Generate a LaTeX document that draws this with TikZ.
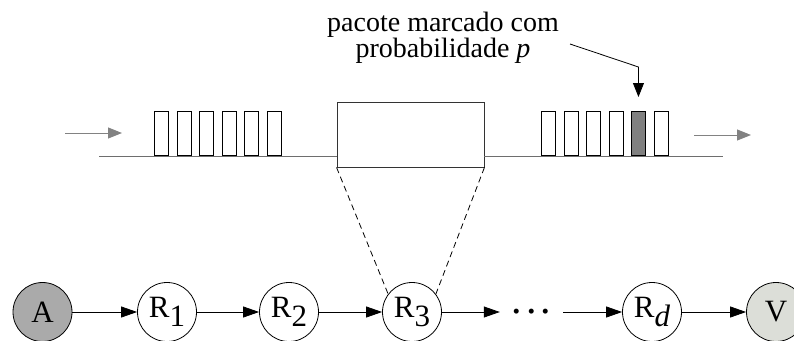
\documentclass[tikz,border=0pt]{standalone}
\usepackage{fontspec}
\setmainfont{Liberation Serif}
\usetikzlibrary{arrows.meta}
\definecolor{lineGray}{RGB}{110,110,110}
\definecolor{flowGray}{RGB}{130,130,130}
\definecolor{srcFill}{RGB}{170,170,170}
\definecolor{dstFill}{RGB}{220,222,216}
\definecolor{markFill}{RGB}{128,128,128}
\newcommand{\lowsub}[1]{\raisebox{-0.3em}{#1}}
\begin{document}
\begin{tikzpicture}[x=1pt,y=-1pt,
  router/.style={circle,draw=black,line width=0.8pt,minimum size=59pt,inner sep=0pt,
    font=\fontsize{31}{31}\selectfont},
  hop/.style={line width=0.8pt,-{Triangle[length=16pt,width=11pt]}},
  flow/.style={draw=flowGray,line width=1pt,-{Triangle[length=14pt,width=11pt]}},
  pkt/.style={draw=black,line width=0.9pt,minimum width=14pt,minimum height=44pt,
    inner sep=0pt,anchor=south west},
  wire/.style={draw=lineGray,line width=1pt},
  zoomline/.style={line width=0.8pt,dash pattern=on 6pt off 4pt},
  zoombox/.style={draw=black!80,line width=0.9pt,minimum width=147pt,minimum height=65pt,
    inner sep=0pt,fill=white}]
\useasboundingbox (0,0) rectangle (794,340);

% link carrying packets
\coordinate (wL) at (99,156);
\coordinate (wR) at (723,156);
\node[zoombox] (box) at (410.5,134.5) {};
\draw[wire] (wL) -- (box.west |- wL);
\draw[wire] (box.east |- wR) -- (wR);

% traffic direction
\coordinate (inA) at (65,133);
\coordinate (inB) at (122,133);
\coordinate (outA) at (694,135);
\coordinate (outB) at (751,135);
\draw[flow] (inA) -- (inB);
\draw[flow] (outA) -- (outB);

% packets before the router
\foreach \i in {0,...,5}
  \node[pkt] (pa\i) at (154+22.5*\i,156) {};
% packets after the router, one of them marked
\foreach \i in {0,...,5}
  \node[pkt] (pb\i) at (541+22.5*\i,156) {};
\node[pkt,fill=markFill] (mark) at (631,156) {};

% annotation
\node[align=center,inner sep=0pt,anchor=north,font=\fontsize{28}{26}\selectfont]
  (note) at (443,12) {pacote marcado com\\probabilidade \textit{p}};
\coordinate (noteA) at (570,44);
\coordinate (noteB) at (mark.north |- 0,67);
\coordinate (noteC) at (mark.north |- 0,97);
\draw[line width=0.8pt,-{Triangle[length=14pt,width=11pt]}] (noteA) -- (noteB) -- (noteC);

% path of routers
\node[router,fill=srcFill] (A) at (42.5,312) {A};
\node[router] (R1) at (167,312) {R\lowsub{1}};
\node[router] (R2) at (289,312) {R\lowsub{2}};
\node[router] (R3) at (412,312) {R\lowsub{3}};
\node[inner sep=0pt,minimum width=63pt,text height=0pt,text depth=0pt,
  font=\fontsize{42}{42}\selectfont] (dots) at (531.5,313.5) {.\hspace{4pt}.\hspace{4pt}.};
\node[router] (Rd) at (652,312) {R\lowsub{\textit{d}}};
\node[router,fill=dstFill] (V) at (776,312) {V};

\draw[hop] (A) -- (R1);
\draw[hop] (R1) -- (R2);
\draw[hop] (R2) -- (R3);
\draw[hop] (R3) -- (R3 -| dots.west);
\draw[hop] (Rd -| dots.east) -- (Rd);
\draw[hop] (Rd) -- (V);

% zoom onto R3
\draw[zoomline] (box.south west) -- (R3.143);
\draw[zoomline] (box.south east) -- (R3.37);
\end{tikzpicture}
\end{document}
